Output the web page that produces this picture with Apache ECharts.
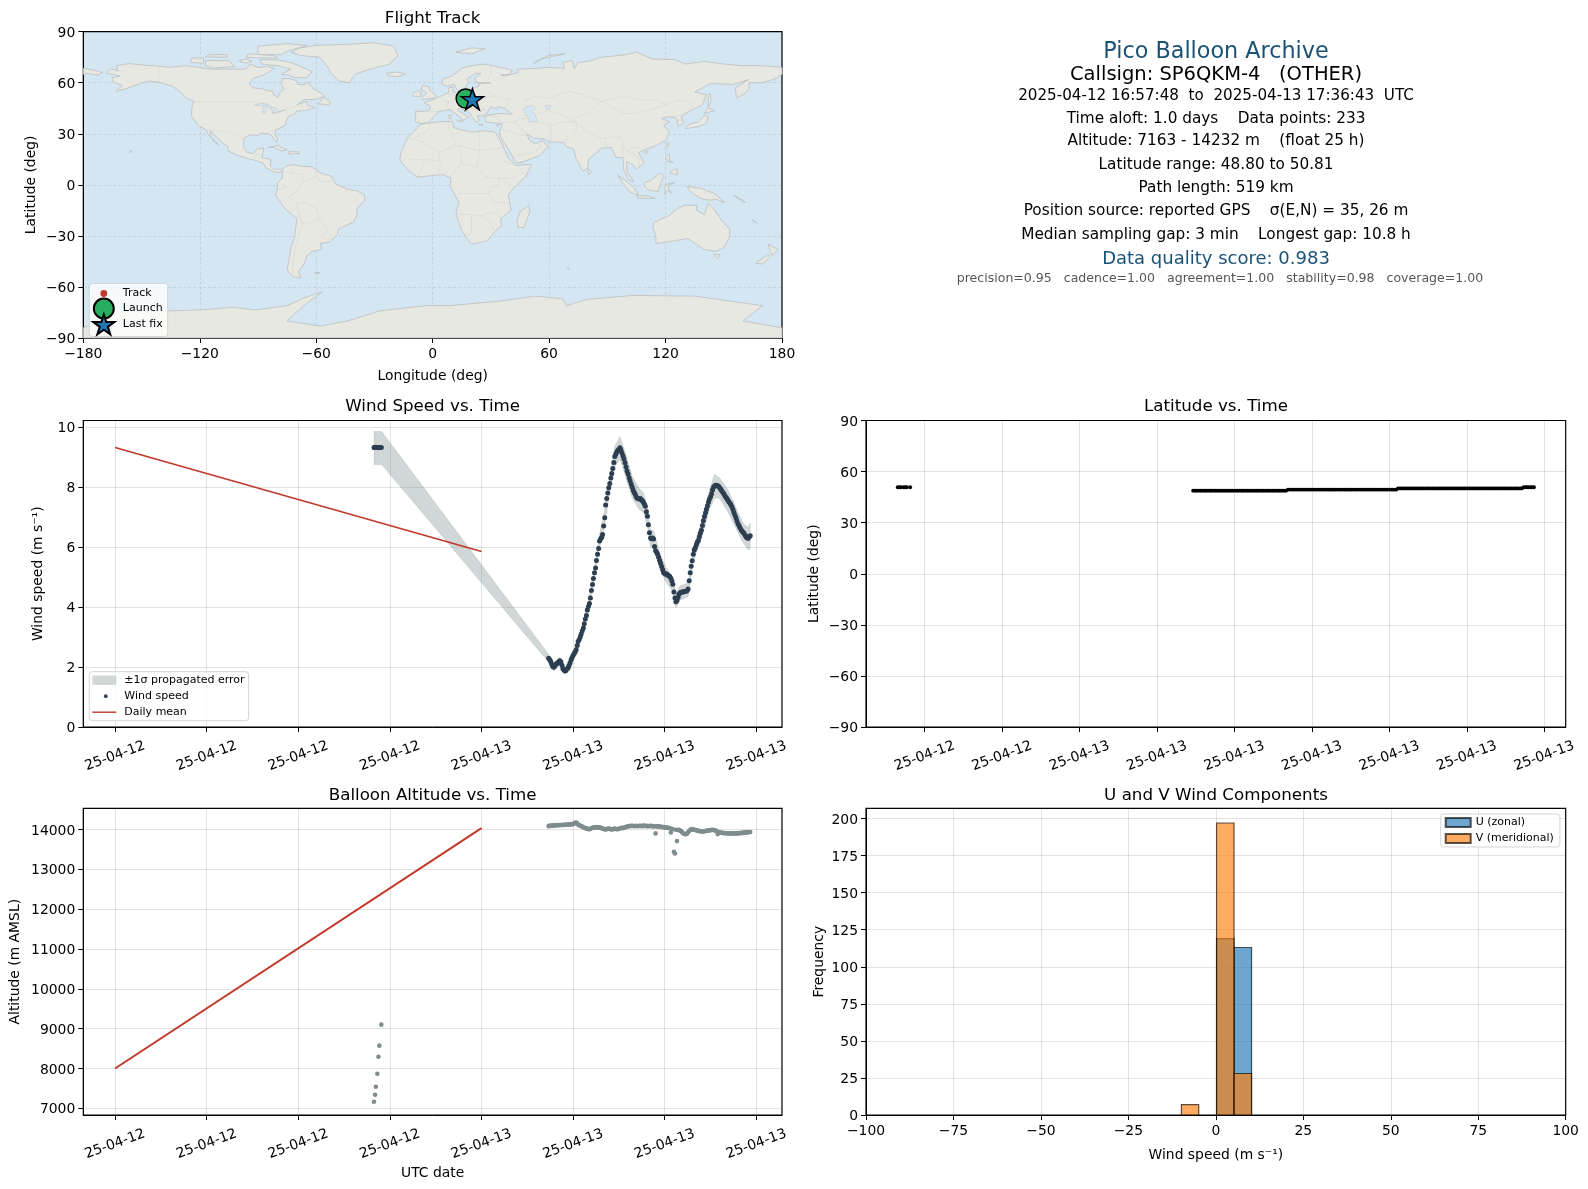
<!DOCTYPE html>
<html><head><meta charset="utf-8"><style>html,body{margin:0;padding:0;background:#fff}#c{width:1588px;height:1189px}</style>
<script src="https://cdn.jsdelivr.net/npm/echarts@6/dist/echarts.min.js"></script></head><body><div id="c"></div>
<script>
// ---- time axis ticks (hours after 2025-04-12 00:00 UTC)
const wideTickHours=[0,6,12,18,24,30,36,42];
const latTickHours=[18,21,24,27,30,33,36,39,42];
const altTicks=[7000,8000,9000,10000,11000,12000,13000,14000];
// ---- first flight segment
const firstHours=[16.96,17.03,17.08,17.18,17.25,17.31,17.44];
const firstWind=[9.32,9.32,9.33,9.32,9.31,9.32,9.32];
const firstAlt=[7163,7340,7540,7866,8295,8572,9100];
const firstLat=[50.81,50.81,50.81,50.80,50.80,50.80,50.80];
// ---- second flight segment (hours after 2025-04-13 00:00 UTC)
const secondHours=[4.40,4.47,4.53,4.60,4.67,4.73,4.80,4.87,4.93,5.00,5.07,5.13,5.20,5.27,5.33,
5.40,5.47,5.53,5.60,5.67,5.73,5.80,5.87,5.93,6.00,6.07,6.13,6.20,6.27,6.33,
6.40,6.47,6.53,6.60,6.67,6.73,6.80,6.87,6.93,7.00,7.07,7.13,7.20,7.27,7.33,
7.40,7.47,7.53,7.60,7.67,7.73,7.80,7.87,7.93,8.00,8.07,8.13,8.20,8.27,8.33,
8.40,8.47,8.53,8.60,8.67,8.73,8.80,8.87,8.93,9.00,9.07,9.13,9.20,9.27,9.33,
9.40,9.47,9.53,9.60,9.67,9.73,9.80,9.87,9.93,10.00,10.07,10.13,10.20,10.27,10.33,
10.40,10.47,10.53,10.60,10.67,10.73,10.80,10.87,10.93,11.00,11.07,11.13,11.20,11.27,11.33,
11.40,11.47,11.53,11.60,11.67,11.73,11.80,11.87,11.93,12.00,12.07,12.13,12.20,12.27,12.33,
12.40,12.47,12.53,12.60,12.67,12.73,12.80,12.87,12.93,13.00,13.07,13.13,13.20,13.27,13.33,
13.40,13.47,13.53,13.60,13.67,13.73,13.80,13.87,13.93,14.00,14.07,14.13,14.20,14.27,14.33,
14.40,14.47,14.53,14.60,14.67,14.73,14.80,14.87,14.93,15.00,15.07,15.13,15.20,15.27,15.33,
15.40,15.47,15.53,15.60,15.67,15.73,15.80,15.87,15.93,16.00,16.07,16.13,16.20,16.27,16.33,
16.40,16.47,16.53,16.60,16.67,16.73,16.80,16.87,16.93,17.00,17.07,17.13,17.20,17.27,17.33,
17.40,17.47,17.53,17.60];
const secondWind=[2.29,2.24,2.18,2.09,2.02,1.99,2.03,2.09,2.12,2.13,2.18,2.21,2.17,2.06,1.94,
1.90,1.87,1.88,1.93,1.97,2.04,2.13,2.24,2.31,2.38,2.45,2.50,2.58,2.72,2.85,
2.92,3.01,3.10,3.21,3.30,3.44,3.60,3.72,3.90,4.02,4.12,4.30,4.55,4.75,4.95,
5.14,5.30,5.55,5.76,5.95,6.20,6.27,6.33,6.42,6.70,6.98,7.40,7.62,7.80,7.98,
8.12,8.30,8.45,8.62,8.82,9.02,9.10,9.18,9.22,9.26,9.31,9.24,9.14,9.04,8.94,
8.81,8.67,8.54,8.44,8.31,8.21,8.10,8.00,7.90,7.82,7.76,7.68,7.63,7.61,7.60,
7.62,7.58,7.54,7.50,7.43,7.36,7.18,7.03,6.74,6.48,6.30,6.28,6.30,6.27,6.02,
5.88,5.82,5.76,5.66,5.55,5.46,5.35,5.24,5.14,5.12,5.09,5.10,5.06,5.04,5.02,
4.96,4.87,4.76,4.50,4.30,4.18,4.22,4.32,4.43,4.47,4.49,4.50,4.50,4.52,4.52,
4.53,4.55,4.60,4.88,5.14,5.36,5.54,5.76,5.90,5.98,6.08,6.16,6.22,6.34,6.46,
6.56,6.72,6.88,7.02,7.14,7.26,7.38,7.50,7.60,7.68,7.78,7.90,8.00,8.04,8.06,
8.05,8.04,8.03,7.98,7.93,7.88,7.83,7.78,7.72,7.66,7.62,7.56,7.51,7.46,7.41,
7.34,7.25,7.15,7.06,6.97,6.87,6.78,6.71,6.64,6.58,6.53,6.49,6.45,6.39,6.34,
6.30,6.29,6.34,6.38];
const secondAlt=[14082,14088,14094,14090,14098,14100,14095,14104,14108,14102,14110,14106,14112,14108,14116,
14112,14118,14122,14118,14124,14120,14128,14130,14122,14135,14150,14165,14172,14150,14118,
14105,14092,14082,14070,14055,14040,14032,14020,14015,14008,14005,14018,14030,14040,14048,
14045,14052,14056,14050,14046,14052,14042,14030,14022,14012,14005,13998,14008,14016,14020,
14012,14004,13998,14002,14012,14020,14010,14002,14008,14018,14030,14034,14038,14028,14040,
14050,14062,14070,14078,14085,14082,14088,14092,14086,14080,14090,14084,14078,14086,14092,
14084,14090,14082,14088,14094,14084,14078,14088,14080,14086,14090,14082,14086,14074,14080,
13899,14076,14082,14070,14066,14072,14060,14054,14060,14048,14044,14048,14040,14032,14036,
13924,14010,14002,13437,13395,13990,13706,13985,13990,13972,13960,13930,13905,13892,13880,
13882,13900,13930,13960,13985,14000,14006,13998,13990,13984,13976,13970,13962,13958,13952,
13948,13950,13946,13952,13958,13962,13968,13972,13976,13982,13986,13990,13984,13976,13968,
13960,13882,13936,13928,13920,13916,13912,13906,13902,13908,13904,13900,13896,13902,13898,
13902,13896,13900,13894,13898,13902,13906,13900,13908,13912,13906,13916,13922,13918,13926,
13930,13926,13934,13932];
const secondLat=[48.8,48.8,48.8,48.8,48.8,48.8,48.8,48.8,48.8,48.8,48.8,48.8,48.8,48.8,48.8,
48.8,48.8,48.8,48.8,48.8,48.8,48.8,48.8,48.8,48.8,48.8,48.8,48.8,48.8,48.8,
48.8,48.8,48.8,48.8,48.8,48.8,48.8,48.8,48.8,48.8,48.8,48.8,48.8,48.8,48.8,
48.8,48.8,48.8,48.8,48.8,48.8,48.8,48.8,48.8,48.8,49.42,49.42,49.42,49.42,49.42,
49.42,49.42,49.42,49.42,49.42,49.42,49.42,49.42,49.42,49.42,49.42,49.42,49.42,49.42,49.42,
49.42,49.42,49.42,49.42,49.42,49.42,49.42,49.42,49.42,49.42,49.42,49.42,49.42,49.42,49.42,
49.42,49.42,49.42,49.42,49.42,49.42,49.42,49.42,49.42,49.42,49.42,49.42,49.42,49.42,49.42,
49.42,49.42,49.42,49.42,49.42,49.42,49.42,49.42,49.42,49.42,49.42,49.42,49.42,49.42,50.08,
50.08,50.08,50.08,50.08,50.08,50.08,50.08,50.08,50.08,50.08,50.08,50.08,50.08,50.08,50.08,
50.08,50.08,50.08,50.08,50.08,50.08,50.08,50.08,50.08,50.08,50.08,50.08,50.08,50.08,50.08,
50.08,50.08,50.08,50.08,50.08,50.08,50.08,50.08,50.08,50.08,50.08,50.08,50.08,50.08,50.08,
50.08,50.08,50.08,50.08,50.08,50.08,50.08,50.08,50.08,50.08,50.08,50.08,50.08,50.08,50.08,
50.08,50.08,50.08,50.08,50.08,50.08,50.08,50.08,50.08,50.08,50.08,50.08,50.81,50.81,50.81,
50.81,50.81,50.81,50.81];
// ---- daily means
const meanHours=[0,24];
const meanWind=[9.32,5.85];
const meanAlt=[8000,14030];
// ---- error band of the wind speed (hours after 2025-04-12 00:00 UTC)
const bandHours=[16.96,17.46,28.40,28.73,29.13,29.47,30.00,30.60,31.00,31.40,31.73,32.07,32.40,32.73,33.07,33.47,33.87,34.33,34.60,34.87,35.07,35.27,35.67,36.07,36.53,36.73,37.00,37.53,37.87,38.40,38.93,39.27,39.60,40.13,40.67,41.13,41.47,41.60];
const bandHigh=[9.85,9.85,2.42,2.13,2.33,2.00,2.50,3.36,4.20,5.33,6.42,7.25,8.40,9.36,9.68,9.05,8.36,7.95,7.82,7.33,6.58,6.55,5.82,5.32,4.98,4.45,4.70,4.80,5.98,6.82,7.92,8.43,8.30,7.92,7.30,6.80,6.65,6.80];
const bandLow=[8.75,8.75,2.16,1.87,2.08,1.75,2.26,3.06,3.85,4.95,5.98,6.70,7.84,8.68,8.93,8.30,7.62,7.25,7.15,6.72,6.00,5.97,5.28,4.85,4.52,3.98,4.23,4.35,5.53,6.28,7.25,7.65,7.62,7.18,6.62,6.15,5.90,5.95];
// ---- histogram bins [from, to, count]
const uBins=[[0.2,5.2,119],[5.2,10.2,113]];
const vBins=[[-9.85,-4.9,7],[0.2,5.2,197],[5.2,10.2,28]];
// ---- flight track
const trackLon=[17.0,17.1,17.6,18.4,19.1,19.8,20.5];
const trackLat=[50.8,50.8,48.9,49.4,49.4,50.1,50.3];
const launchPoint=[17.0,50.7];
const lastFixPoint=[20.5,50.3];
// ---- land outlines (lon, lat)
const northAmerica=[[-168,65.5],[-166,68.3],[-162,67],[-163,70],[-156.5,71.3],[-150,70.5],[-141,69.7],[-135,69],[-128,70],[-124,69.5],[-115,68],[-108,68],[-100,68],[-96,68],[-94,71],[-90,69],[-85,69.5],[-81.5,68.5],[-85,66],[-88,64],[-92.5,62.5],[-94.5,60],[-94,58.7],[-92.5,57],[-88,56.5],[-85,55.3],[-82.3,55],[-82,52.9],[-79.5,51.3],[-79,54],[-76.5,56.5],[-78,59],[-77.5,62.4],[-73.5,62.4],[-70,61],[-69.5,59],[-66,58.8],[-64.5,60.3],[-61.5,56.5],[-57,53.5],[-55.8,52],[-60,50.2],[-66.5,50],[-70,47],[-65,49],[-64.5,47],[-61,45.5],[-65.5,43.5],[-70,43.5],[-71,41.5],[-74,40.5],[-75.5,37.5],[-76,35],[-78,33.8],[-81,32],[-81.3,30],[-80,26.8],[-80.5,25.2],[-82,27],[-82.8,29],[-84.5,30],[-89,30.2],[-90,29],[-94,29.5],[-97.2,27.5],[-97.5,22.5],[-95.5,18.8],[-92,18.5],[-90.5,21],[-87,21.5],[-88,16],[-83.5,15],[-83.5,11],[-81.5,9],[-79.5,9.5],[-77.3,8.6],[-78,7.5],[-80.5,7.3],[-83,8.3],[-85.8,10],[-87.5,13],[-92,14.5],[-96,15.8],[-101,17.5],[-105.5,20],[-105.5,22.5],[-109.5,26],[-112.5,29.5],[-114.8,31.7],[-114,28],[-110,23],[-112,25],[-115,28.5],[-117,32.5],[-120.5,34.5],[-122.5,37.5],[-124.3,40.5],[-124,46],[-123,49],[-127,51],[-130,54.5],[-134,58],[-140,60],[-146,61],[-150,60],[-153,58.5],[-158,56.5],[-163,55],[-160,58.5],[-165,60.5],[-165,63],[-161,64],[-168,65.5]];
const greenland=[[-73,78],[-68,80.5],[-60,82],[-45,82.5],[-30,83.5],[-20,81.5],[-18,76],[-22,71],[-32,68],[-40,65],[-43,60],[-48,61],[-52,65],[-54,69],[-58,75],[-68,76]];
const southAmerica=[[-77.5,8.6],[-75.5,11],[-72,12],[-68,11],[-62,10.5],[-58,7],[-52,5],[-50,0.5],[-44,-2.5],[-39,-3.5],[-35,-6],[-35,-9],[-39,-14],[-39,-18],[-41,-22],[-45,-24],[-48.5,-26],[-49,-29],[-53,-33.5],[-58,-34.5],[-57,-38],[-62,-39],[-65,-42],[-66,-46],[-69,-51],[-68,-54.5],[-72,-54],[-75,-50],[-74,-44],[-73,-37],[-71,-30],[-70,-20],[-76,-14],[-81,-6],[-80,-2.5],[-80,1],[-77.5,4]];
const africa=[[-6,35.8],[3,37],[10,37.3],[11,33.5],[15,32.3],[20,31],[25,31.7],[32,31.2],[34,28],[37,21],[39,15.5],[43,11.5],[51,12],[48,5],[42,-1.5],[39,-6],[40.5,-15],[35,-20],[35.5,-24],[32.5,-27],[28,-33],[20,-34.8],[18,-32],[15,-27],[12,-17],[13.5,-10],[9,-1],[9.5,4],[5,6],[-4,5],[-8,4.5],[-13,9],[-17,14.5],[-16,20],[-13,27.5],[-9.5,31.5]];
const eurasia=[[-9,37],[-9,43],[-2,43.5],[-1,46],[-4.5,48.3],[1.5,50.5],[4,52],[8,54],[8.5,57],[10.5,57.5],[10.5,54.5],[14,54],[19,54.5],[21,57],[24,58],[23.5,59.5],[30,60],[23,60],[21.5,62.5],[25,65.5],[22,65.5],[17.5,62],[18.5,60],[16.5,56.5],[13,55.5],[11,59],[8,58],[5,59],[5,62],[10,64],[15,68.5],[20,70],[26,71],[31,70],[41,67.5],[40,65],[35,64.5],[37,63.9],[44,66],[44,68],[54,68.5],[60,69],[68,68.5],[67,72],[72,73],[73,68],[75,72],[80,72.5],[87,75],[100,76.5],[105,78],[113,74],[125,73.5],[130,71],[140,72.5],[150,71],[160,70],[170,70],[180,69],[180,65],[177,62.5],[170,60],[163,60],[163,56],[160,53],[156.5,51],[156,57],[163,62],[155,59],[143,59.5],[135,54.5],[141,53],[139,47],[132,43],[128,40],[129.5,36],[126.5,34.5],[126,37.5],[125,39.7],[121,40],[118,39],[122,37],[119,35],[122,31],[120,26],[114,22.5],[110,21],[106,19],[109,13],[105,9],[103,12],[100,13.5],[100,8],[103.5,2],[101,3],[98.5,8.5],[98,16],[94.5,16],[92,22],[87,21.5],[80.3,15],[80,10],[77.5,8],[74,15],[72.7,21],[69,22.5],[67,25],[61,25.2],[57,27],[52,27.5],[48.5,30],[50,26],[53,24],[56.5,26],[59.5,22.5],[55,17],[45,13],[43,13],[39,21],[35,28],[34.5,31],[36,36],[31,36.5],[27.5,37],[26.5,40],[29,41],[35,42],[41,41.5],[37,45],[33.5,46],[33,44.5],[30,46],[28,42],[26,40.7],[23,40.5],[24,38],[22.5,36.5],[19.5,41],[19,42.5],[14,45],[12.5,44],[18.5,40],[16,38],[11,42.5],[9,44.3],[3,43],[0,39.5],[-2,36.8],[-5.5,36]];
const australia=[[114,-22],[122,-18],[126,-14],[130,-12],[136,-12],[136,-15],[140,-17.5],[142,-11],[145.5,-15],[149,-21],[153,-26],[153,-31],[150,-37],[146,-39],[140,-38],[136,-35],[131.5,-31.5],[124,-33],[115,-34.5],[115,-30],[113.5,-25]];
const antarctica=[[-180,-90],[-180,-84],[-166,-78],[-163,-74.5],[-135,-74],[-120,-73.5],[-103,-72],[-91,-73.5],[-75,-71],[-71,-69],[-66.5,-66.5],[-57,-63],[-65,-69.5],[-75,-80],[-58,-83],[-44,-80],[-27,-74],[-3,-71],[8.6,-71],[34,-68.4],[53,-65.4],[67,-67],[69,-71],[79,-67.4],[103,-65],[135,-65.4],[170,-71],[160,-80],[180,-84],[180,-90]];
const islands=[
[[-80,73.5],[-72,71.5],[-67,69],[-62,66.5],[-65,63],[-71,63],[-74,64.5],[-78,65],[-73,68],[-80,70],[-88,71],[-89,73.5]],
[[-117,73],[-105,73],[-102,69.5],[-113,68.5],[-117,70]],
[[-90,76.5],[-78,76.5],[-75,78.5],[-65,82],[-75,83],[-90,81.5]],
[[-125,72],[-118,71.5],[-118,74.5],[-124,74.5]],
[[-96,74.8],[-80,74.5],[-82,76],[-95,77]],
[[-117,75.2],[-106,75],[-106,76.5],[-115,76.5]],
[[-100,73],[-97,71.5],[-93,72.5],[-96,74]],
[[-59,47.7],[-53,46.8],[-53,49],[-56,51.5]],
[[-85,22],[-80,23],[-75,20.5],[-77.5,19.9],[-82,22]],
[[-74,19.5],[-69,19.5],[-68.5,18.5],[-74,18]],
[[-156,20.5],[-155,19.5],[-156,19]],
[[-180,68.5],[-175,67.5],[-170,66],[-173,64.5],[-178,65.5],[-180,65]],
[[-5.5,50],[1.5,51.2],[1.5,53],[-1.5,55.5],[-2,57.5],[-5,58.6],[-6,56],[-3,54],[-5,52]],
[[-10,52],[-6,52],[-6,54.5],[-8,55.3],[-10,54]],
[[-24,65.5],[-18,66.3],[-14,65],[-18,63.5],[-22.5,64]],
[[12,78],[20,80.5],[27,80],[20,77]],
[[52,71],[56,74],[68,77],[60,76],[54,73]],
[[12.5,38],[15.5,38],[15,36.7]],
[[8.3,41],[9.7,41],[9.5,39],[8.5,39]],
[[23.5,35.5],[26,35.3],[25,34.9]],
[[32.5,35],[34.5,35.6],[33.5,34.6]],
[[142,46],[143.5,49],[143,54],[142,53]],
[[130,33],[136,34],[141,36],[142,40],[140,41],[137,37],[132,35.5]],
[[140,42],[145,43.5],[142,45.5]],
[[120.5,23],[121.5,25],[122,24.5],[121,22]],
[[109,19.5],[111,20],[110,18.3]],
[[120,16],[122,18.5],[122,14],[124,13],[121,14]],
[[122,7],[126,6],[126,9.5],[123.5,8.5]],
[[95.5,5.5],[100,2],[104,-2],[106,-6],[102,-4.5],[98,1]],
[[105,-6.5],[111,-6.5],[114.5,-8],[106,-7.8]],
[[109,1],[113,3],[117,7],[119,5],[117.5,1],[116,-4],[111,-3],[109,-0.5]],
[[119.5,-5.5],[120,0],[125,1.5],[121,-1],[123,-5],[121,-3]],
[[131,-1],[138,-2],[145,-5],[148,-8],[150.5,-10.5],[146,-8.5],[143,-9],[138,-8],[133,-4]],
[[80,9.5],[82,7.5],[80.5,6]],
[[145,-41],[148,-41],[147,-43.5]],
[[173,-35],[178,-38],[175,-41.5],[174,-39]],
[[172.5,-41],[174,-42],[170,-46.5],[166.5,-46]],
[[49.5,-12],[50,-16],[47,-25],[44,-25],[43.5,-21],[45,-16]],
[[-61,-51.5],[-58,-51.5],[-59,-52.3]],
[[69,-49],[70.5,-49],[70,-49.8]],
[[165,-21],[167,-22.3],[164.5,-20.3]],
[[155,-6],[160,-9],[161,-10.5],[157,-8]]
];
const inlandWater=[
[[47,45],[51,47],[53,45],[51,43],[53,41],[54,37],[50,37],[49,40],[47,43]],
[[-88,48],[-85,47.5],[-84.5,46.5],[-88,46.5],[-92,46.8]],
[[-87.5,45.8],[-85,45.5],[-86.5,42],[-87.5,42]],
[[-84,46],[-80,45],[-82,43],[-83.5,44]],
[[-83,42],[-78.5,43.5],[-76,44],[-79,42.8]],
[[58,46.5],[61,46.5],[60,44.5],[58.5,44.5]]
];
const borders=[
[[-141,69.7],[-141,60]],[[-123,49],[-95,49],[-89,48],[-83,46],[-82.5,42],[-76,44],[-74,45],[-67,47],[-67,45]],
[[-117,32.5],[-108,31.5],[-106,31.7],[-101,29.5],[-97.2,26]],[[-92,14.5],[-91,17.8],[-89,17.8],[-88,16]],
[[-72,12],[-72,7],[-67,6],[-67,2],[-70,-4],[-74,-7],[-70,-11],[-69,-17],[-70,-20]],[[-67,2],[-60,5],[-60,8]],[[-60,5],[-58,2],[-52,2],[-52,5]],
[[-70,-11],[-65,-10],[-60,-14],[-58,-20],[-55,-25],[-54,-27],[-57,-30],[-53,-33.5]],[[-69,-17],[-67,-23],[-70,-33],[-72,-45],[-72,-52]],[[-67,-23],[-62,-22],[-58,-20]],[[-58,-27],[-55,-25]],[[-80,-3],[-75,-1],[-78,1]],[[-77.5,8],[-72,7]],
[[-9,28],[-2,32],[-1,35]],[[-13,27.5],[-9,27],[-5,25],[3,19],[12,23],[14,23],[24,20],[24,31]],[[9,37],[8,33],[10,30],[12,23]],[[24,20],[37,22]],[[24,20],[23,10],[27,5],[31,4],[34,4],[42,-1.5]],[[34,4],[42,4],[48,8]],[[36,14],[43,11.5]],[[3,19],[4,12],[3,7]],[[14,23],[15,13],[9,4]],[[15,13],[23,10]],[[-12,15],[-5,15],[3,14]],[[-5,15],[-5,10],[-8,4.5]],[[13,-5],[22,-5],[29,-5],[31,-10],[40,-11]],[[12,-17],[25,-18],[33,-16],[35,-20]],[[20,-18],[20,-29],[17,-29]],[[25,-18],[30,-22],[32,-27]],[[29,-5],[30,-1],[34,0],[34,4]],
[[-9,42],[-7,37]],[[-2,43.5],[3,43]],[[4,52],[6,49.5],[8,49],[7,44]],[[8,54],[14,51],[14,54]],[[14,51],[18,49],[24,48],[24,54]],[[14,45],[18,46],[22,44],[28,44]],[[24,51],[32,52],[40,50],[38,47]],[[28,60],[30,65],[30,70]],[[27,56],[32,52]],[[28,42],[36,37]],[[36,37],[42,37],[45,39],[48,39]],[[42,37],[46,33],[48,30]],[[36,32],[39,32],[46,29],[48,29]],[[52,18],[55,22],[56,25]],[[43,17],[52,19]],[[61,25],[61,35],[67,37],[74,37]],[[61,35],[54,37]],[[67,25],[71,28],[74,32],[74,37],[79,32],[85,28],[89,27],[92,28],[97,28],[98,24],[100,20],[104,22],[107,22]],[[89,27],[89,22]],[[98,24],[98,16]],[[100,20],[105,17],[107,14],[106,11]],[[54,42],[60,44],[67,41],[74,37]],[[47,49],[52,52],[60,51],[70,55],[77,53],[87,49]],[[87,49],[80,42],[74,40]],[[87,49],[98,42],[105,42],[112,44],[120,47],[116,50],[107,50],[98,52],[87,49]],[[120,47],[127,50],[135,48],[131,43]],[[125,40],[130,42.5]],[[126,38],[129,38]]
];
const landPolygons=[northAmerica,greenland,southAmerica,africa,eurasia,australia,antarctica].concat(islands);
// ---- text
const infoLines=[
['Pico Balloon Archive',22.3,'#1a5276',52.4,1216],
['Callsign: SP6QKM-4   (OTHER)',19.5,'#000',74.7,1216],
['2025-04-12 16:57:48  to  2025-04-13 17:36:43  UTC',15.15,'#000',95.9,1216],
['Time aloft: 1.0 days    Data points: 233',15.3,'#000',119.2,1216],
['Altitude: 7163 - 14232 m    (float 25 h)',15.3,'#000',141.5,1216],
['Latitude range: 48.80 to 50.81',15.3,'#000',164.7,1216],
['Path length: 519 km',15.3,'#000',188.1,1216],
['Position source: reported GPS    σ(E,N) = 35, 26 m',15.3,'#000',211.4,1216],
['Median sampling gap: 3 min    Longest gap: 10.8 h',15.3,'#000',234.7,1216],
['Data quality score: 0.983',18,'#1a5276',259,1216],
['precision=0.95   cadence=1.00   agreement=1.00   stability=0.98   coverage=1.00',12.55,'#555',278.6,1220]
];
const FONT='DejaVu Sans';
const allHours=firstHours.concat(secondHours.map(h=>h+24));
const allWind=firstWind.concat(secondWind);
const allAlt=firstAlt.concat(secondAlt);
const allLat=firstLat.concat(secondLat);
const zip=(a,b)=>a.map((v,i)=>[v,b[i]]);
const STAR='path://M50 0L61.2 34.5L97.6 34.5L68.2 55.9L79.4 90.5L50 69.1L20.6 90.5L31.8 55.9L2.4 34.5L38.8 34.5Z';
const SMALL_DOT='path://M0 0L0 0M100 100L100 100M33 50a17 17 0 1 0 34 0a17 17 0 1 0 -34 0Z';
const LEGEND_LINE='path://M0 0L0 0M270 110L270 110M0 48H240V62H0Z';
const LEGEND_PATCH='path://M0 0L0 0M270 110L270 110M0 8H240V102H0Z';
const GRID=[{left:83.3,top:31.7,width:698.7,height:306.3},{left:83.3,top:420.5,width:698.7,height:306.5},{left:866,top:420.5,width:699.7,height:306.5},{left:83.3,top:808.4,width:698.7,height:306.6},{left:866,top:808.4,width:699.7,height:306.6}];
const minusSign=v=>String(v).replace('-','\u2212');
const dateLabel=h=>h<24?'25-04-12':'25-04-13';
const gridLine={show:true,lineStyle:{color:'rgba(0,0,0,0.115)',width:1}};
const mapGridLine={show:true,lineStyle:{color:'rgba(0,0,0,0.1)',type:[3,2],width:0.8}};
const axisBase={axisLine:{show:true,onZero:false,lineStyle:{color:'#000',width:1}},axisTick:{show:true,length:5,lineStyle:{color:'#000',width:1}},axisLabel:{color:'#000',fontFamily:FONT,fontSize:13.9,margin:9,formatter:minusSign},splitLine:gridLine,nameTextStyle:{color:'#000',fontFamily:FONT,fontSize:13.9}};
const yLabel=Object.assign({},axisBase.axisLabel,{margin:8,verticalAlign:'top',padding:[-5.5,0,0,0]});
function timeAxis(idx,min,max,ticks,name){return Object.assign({},axisBase,{type:'value',gridIndex:idx,min,max,name:name||'',nameLocation:'middle',nameGap:51,
  axisTick:Object.assign({},axisBase.axisTick,{customValues:ticks}),
  axisLabel:{color:'#000',fontFamily:FONT,fontSize:13.9,rotate:20,align:'center',verticalAlign:'middle',margin:29,customValues:ticks,hideOverlap:false,showMinLabel:true,showMaxLabel:true,formatter:dateLabel}});}
function valAxis(idx,o,name,gap){return Object.assign({},axisBase,{type:'value',gridIndex:idx,name,nameLocation:'middle',nameGap:gap,nameRotate:90,axisLabel:yLabel},o);}
const bandRender=(params,api)=>{
  if(params.dataIndex!==0) return null;
  const up=zip(bandHours,bandHigh).map(p=>api.coord(p));
  const lo=zip(bandHours,bandLow).map(p=>api.coord(p)).reverse();
  return {type:'polygon',shape:{points:up.concat(lo)},style:{fill:'rgba(127,140,141,0.36)',stroke:'rgba(127,140,141,0.2)',lineWidth:1}};
};
const histRender=(color,stroke)=>(params,api)=>{
  const a=api.coord([api.value(0),api.value(2)]),b=api.coord([api.value(1),0]);
  return {type:'rect',shape:{x:a[0],y:a[1],width:b[0]-a[0],height:b[1]-a[1]},style:{fill:color,stroke:stroke,lineWidth:1.2}};
};
const landRender=(params,api)=>({type:'polygon',shape:{points:landPolygons[params.dataIndex].map(p=>api.coord(p))},style:{fill:'rgba(232,231,225,0.93)',stroke:'#bcbfbf',lineWidth:0.8}});
const waterRender=(params,api)=>({type:'polygon',shape:{points:inlandWater[params.dataIndex].map(p=>api.coord(p))},style:{fill:'#d4e6f1',stroke:'#c4cacc',lineWidth:0.6}});
const borderRender=(params,api)=>({type:'polyline',shape:{points:borders[params.dataIndex].map(p=>api.coord(p))},style:{fill:null,stroke:'rgba(0,0,0,0.06)',lineWidth:0.8}});
const legendBase={orient:'vertical',backgroundColor:'rgba(255,255,255,0.8)',borderColor:'#d5d5d5',borderWidth:1,borderRadius:3,textStyle:{fontFamily:FONT,fontSize:11,color:'#000'},selectedMode:false};
const chart=echarts.init(document.getElementById('c'),null,{renderer:'canvas'});
chart.setOption({
  animation:false,
  backgroundColor:'#fff',
  title:[['Flight Track',432.6,10.5],['Wind Speed vs. Time',432.6,398],['Latitude vs. Time',1216,398],['Balloon Altitude vs. Time',432.6,787],['U and V Wind Components',1216,787]].map(t=>({text:t[0],left:t[1],top:t[2],padding:0,textAlign:'center',textStyle:{fontFamily:FONT,fontSize:16.7,fontWeight:'normal',color:'#000'}})),
  grid:GRID.map((g,i)=>Object.assign({containLabel:false,show:true,borderColor:'#000',borderWidth:1.2,backgroundColor:i===0?'#d4e6f1':'#fff'},g)),
  xAxis:[
    Object.assign({},axisBase,{type:'value',gridIndex:0,min:-180,max:180,interval:60,name:'Longitude (deg)',nameLocation:'middle',nameGap:31,splitLine:mapGridLine}),
    timeAxis(1,-2.08,43.68,wideTickHours),
    timeAxis(2,15.73,42.83,latTickHours),
    timeAxis(3,-2.08,43.68,wideTickHours,'UTC date'),
    Object.assign({},axisBase,{type:'value',gridIndex:4,min:-100,max:100,interval:25,name:'Wind speed (m s\u207B\u00B9)',nameLocation:'middle',nameGap:33})
  ],
  yAxis:[
    valAxis(0,{min:-90,max:90,interval:30,splitLine:mapGridLine},'Latitude (deg)',45),
    valAxis(1,{min:0,max:10.22,interval:2},'Wind speed (m s\u207B\u00B9)',38),
    valAxis(2,{min:-90,max:90,interval:30},'Latitude (deg)',45),
    Object.assign(valAxis(3,{min:6832,max:14527},'Altitude (m AMSL)',61),{axisTick:Object.assign({},axisBase.axisTick,{customValues:altTicks}),axisLabel:Object.assign({},yLabel,{customValues:altTicks,showMinLabel:true})}),
    valAxis(4,{min:0,max:206.85,interval:25},'Frequency',40)
  ],
  legend:[
    Object.assign({},legendBase,{left:89.3,top:283.5,padding:[0,5,1,3],itemWidth:28,itemHeight:20,itemGap:-6,
      data:[{name:'Track',icon:SMALL_DOT},{name:'Launch',icon:'circle'},{name:'Last fix',icon:STAR}]}),
    Object.assign({},legendBase,{left:89.3,top:671.7,padding:[3,4,3,3],itemWidth:27,itemHeight:11,itemGap:5,
      data:[{name:'\u00B11\u03C3 propagated error',icon:LEGEND_PATCH},{name:'Wind speed',icon:SMALL_DOT},{name:'Daily mean',icon:LEGEND_LINE}]}),
    Object.assign({},legendBase,{left:1440.7,top:814,padding:[3,6,3,4],itemWidth:25,itemHeight:9,itemGap:5,
      data:[{name:'U (zonal)',icon:'rect'},{name:'V (meridional)',icon:'rect'}]})
  ],
  series:[
    {type:'custom',name:'land',xAxisIndex:0,yAxisIndex:0,renderItem:landRender,data:landPolygons.map(p=>p[0]),encode:{x:0,y:1},silent:true,z:1},
    {type:'custom',name:'water',xAxisIndex:0,yAxisIndex:0,renderItem:waterRender,data:inlandWater.map(p=>p[0]),encode:{x:0,y:1},silent:true,z:1},
    {type:'custom',name:'borders',xAxisIndex:0,yAxisIndex:0,renderItem:borderRender,data:borders.map(p=>p[0]),encode:{x:0,y:1},silent:true,z:1},
    {type:'scatter',name:'Track',xAxisIndex:0,yAxisIndex:0,data:zip(trackLon,trackLat),symbolSize:4,itemStyle:{color:'#c0392b',opacity:1},z:3},
    {type:'scatter',name:'Launch',xAxisIndex:0,yAxisIndex:0,data:[launchPoint],symbol:'circle',symbolSize:19,itemStyle:{color:'#27ae60',borderColor:'#000',borderWidth:1.5,opacity:1},z:4},
    {type:'scatter',name:'Last fix',xAxisIndex:0,yAxisIndex:0,data:[lastFixPoint],symbol:STAR,symbolKeepAspect:true,symbolSize:22,itemStyle:{color:'#1f77b4',borderColor:'#000',borderWidth:1.5,opacity:1},z:5},
    {type:'custom',name:'\u00B11\u03C3 propagated error',xAxisIndex:1,yAxisIndex:1,renderItem:bandRender,data:zip(bandHours,bandHigh),encode:{x:0,y:1},itemStyle:{color:'rgba(127,140,141,0.36)'},z:2},
    {type:'scatter',name:'Wind speed',xAxisIndex:1,yAxisIndex:1,data:zip(allHours,allWind),symbolSize:5,itemStyle:{color:'#2c3e50',opacity:1},z:3},
    {type:'line',name:'Daily mean',xAxisIndex:1,yAxisIndex:1,data:zip(meanHours,meanWind),symbol:'none',showSymbol:false,lineStyle:{color:'#c0392b',width:1.6},itemStyle:{color:'#c0392b'},z:4},
    {type:'scatter',name:'Latitude',xAxisIndex:2,yAxisIndex:2,data:zip(allHours,allLat),symbolSize:3.8,itemStyle:{color:'#000',opacity:1},z:3},
    {type:'scatter',name:'Altitude',xAxisIndex:3,yAxisIndex:3,data:zip(allHours,allAlt),symbolSize:4.6,itemStyle:{color:'#7f8c8d',opacity:1},z:3},
    {type:'line',name:'Altitude daily mean',xAxisIndex:3,yAxisIndex:3,data:zip(meanHours,meanAlt),symbol:'none',showSymbol:false,lineStyle:{color:'#c0392b',width:2},z:4},
    {type:'custom',name:'U (zonal)',xAxisIndex:4,yAxisIndex:4,renderItem:histRender('rgba(31,119,180,0.65)','rgba(0,0,0,0.65)'),data:uBins,encode:{x:[0,1],y:2},itemStyle:{color:'rgba(31,119,180,0.65)',borderColor:'rgba(0,0,0,0.65)',borderWidth:1.2},z:3},
    {type:'custom',name:'V (meridional)',xAxisIndex:4,yAxisIndex:4,renderItem:histRender('rgba(255,127,14,0.65)','rgba(0,0,0,0.65)'),data:vBins,encode:{x:[0,1],y:2},itemStyle:{color:'rgba(255,127,14,0.65)',borderColor:'rgba(0,0,0,0.65)',borderWidth:1.2},z:4}
  ],
  graphic:infoLines.map(l=>({type:'text',x:l[4],y:l[3],style:{text:l[0],fontFamily:FONT,fontSize:l[1],fill:l[2],align:'center',verticalAlign:'middle'}}))
});
</script></body></html>
